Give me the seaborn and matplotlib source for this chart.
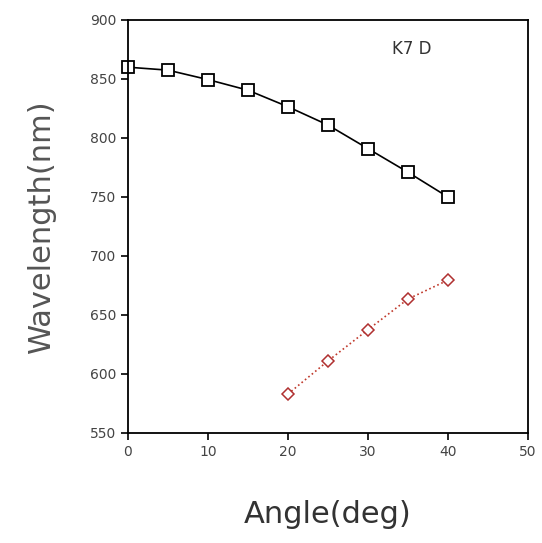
import matplotlib
matplotlib.use("Agg")
import matplotlib.pyplot as plt
import seaborn as sns
import pandas as pd

# Black series (squares)
angle_black = [0, 5, 10, 15, 20, 25, 30, 35, 40]
wl_black = [860, 857.5, 849.5, 840.5, 826.5, 811, 791, 771, 750]

# Red series (diamonds)
angle_red = [20, 25, 30, 35, 40]
wl_red = [583, 611, 637.5, 663.5, 679.5]

sns.set_style("ticks")
plt.rcParams['font.family'] = ['DejaVu Sans']

fig = plt.figure(figsize=(5.42, 5.43), dpi=100)
ax = fig.add_axes([0.236, 0.2026, 0.738, 0.7606])

df_b = pd.DataFrame({'angle': angle_black, 'wl': wl_black})
df_r = pd.DataFrame({'angle': angle_red, 'wl': wl_red})

sns.lineplot(data=df_b, x='angle', y='wl', ax=ax, color='black', lw=1.2,
             marker='s', markersize=9, markerfacecolor='white',
             markeredgecolor='black', markeredgewidth=1.3, clip_on=False)
sns.lineplot(data=df_r, x='angle', y='wl', ax=ax, color='#c0392b', lw=1.2,
             linestyle=':', marker='D', markersize=6.5, markerfacecolor='white',
             markeredgecolor='#b03030', markeredgewidth=1.1)

ax.set_xlim(0, 50)
ax.set_ylim(550, 900)
ax.set_xticks([0, 10, 20, 30, 40, 50])
ax.set_yticks([550, 600, 650, 700, 750, 800, 850, 900])
ax.tick_params(direction='out', length=5, width=1.2, labelsize=10,
               labelcolor='#444444', color='black', top=False, right=False)
for s in ax.spines.values():
    s.set_linewidth(1.3)
    s.set_color('black')

ax.set_xlabel('Angle(deg)', fontsize=22, color='#333333', labelpad=30)
ax.set_ylabel('Wavelength(nm)', fontsize=22, color='#555555', labelpad=24)

ax.text(33, 875, 'K7 D', fontsize=12, color='#333333', va='center')

fig.savefig('out.png', dpi=100)
